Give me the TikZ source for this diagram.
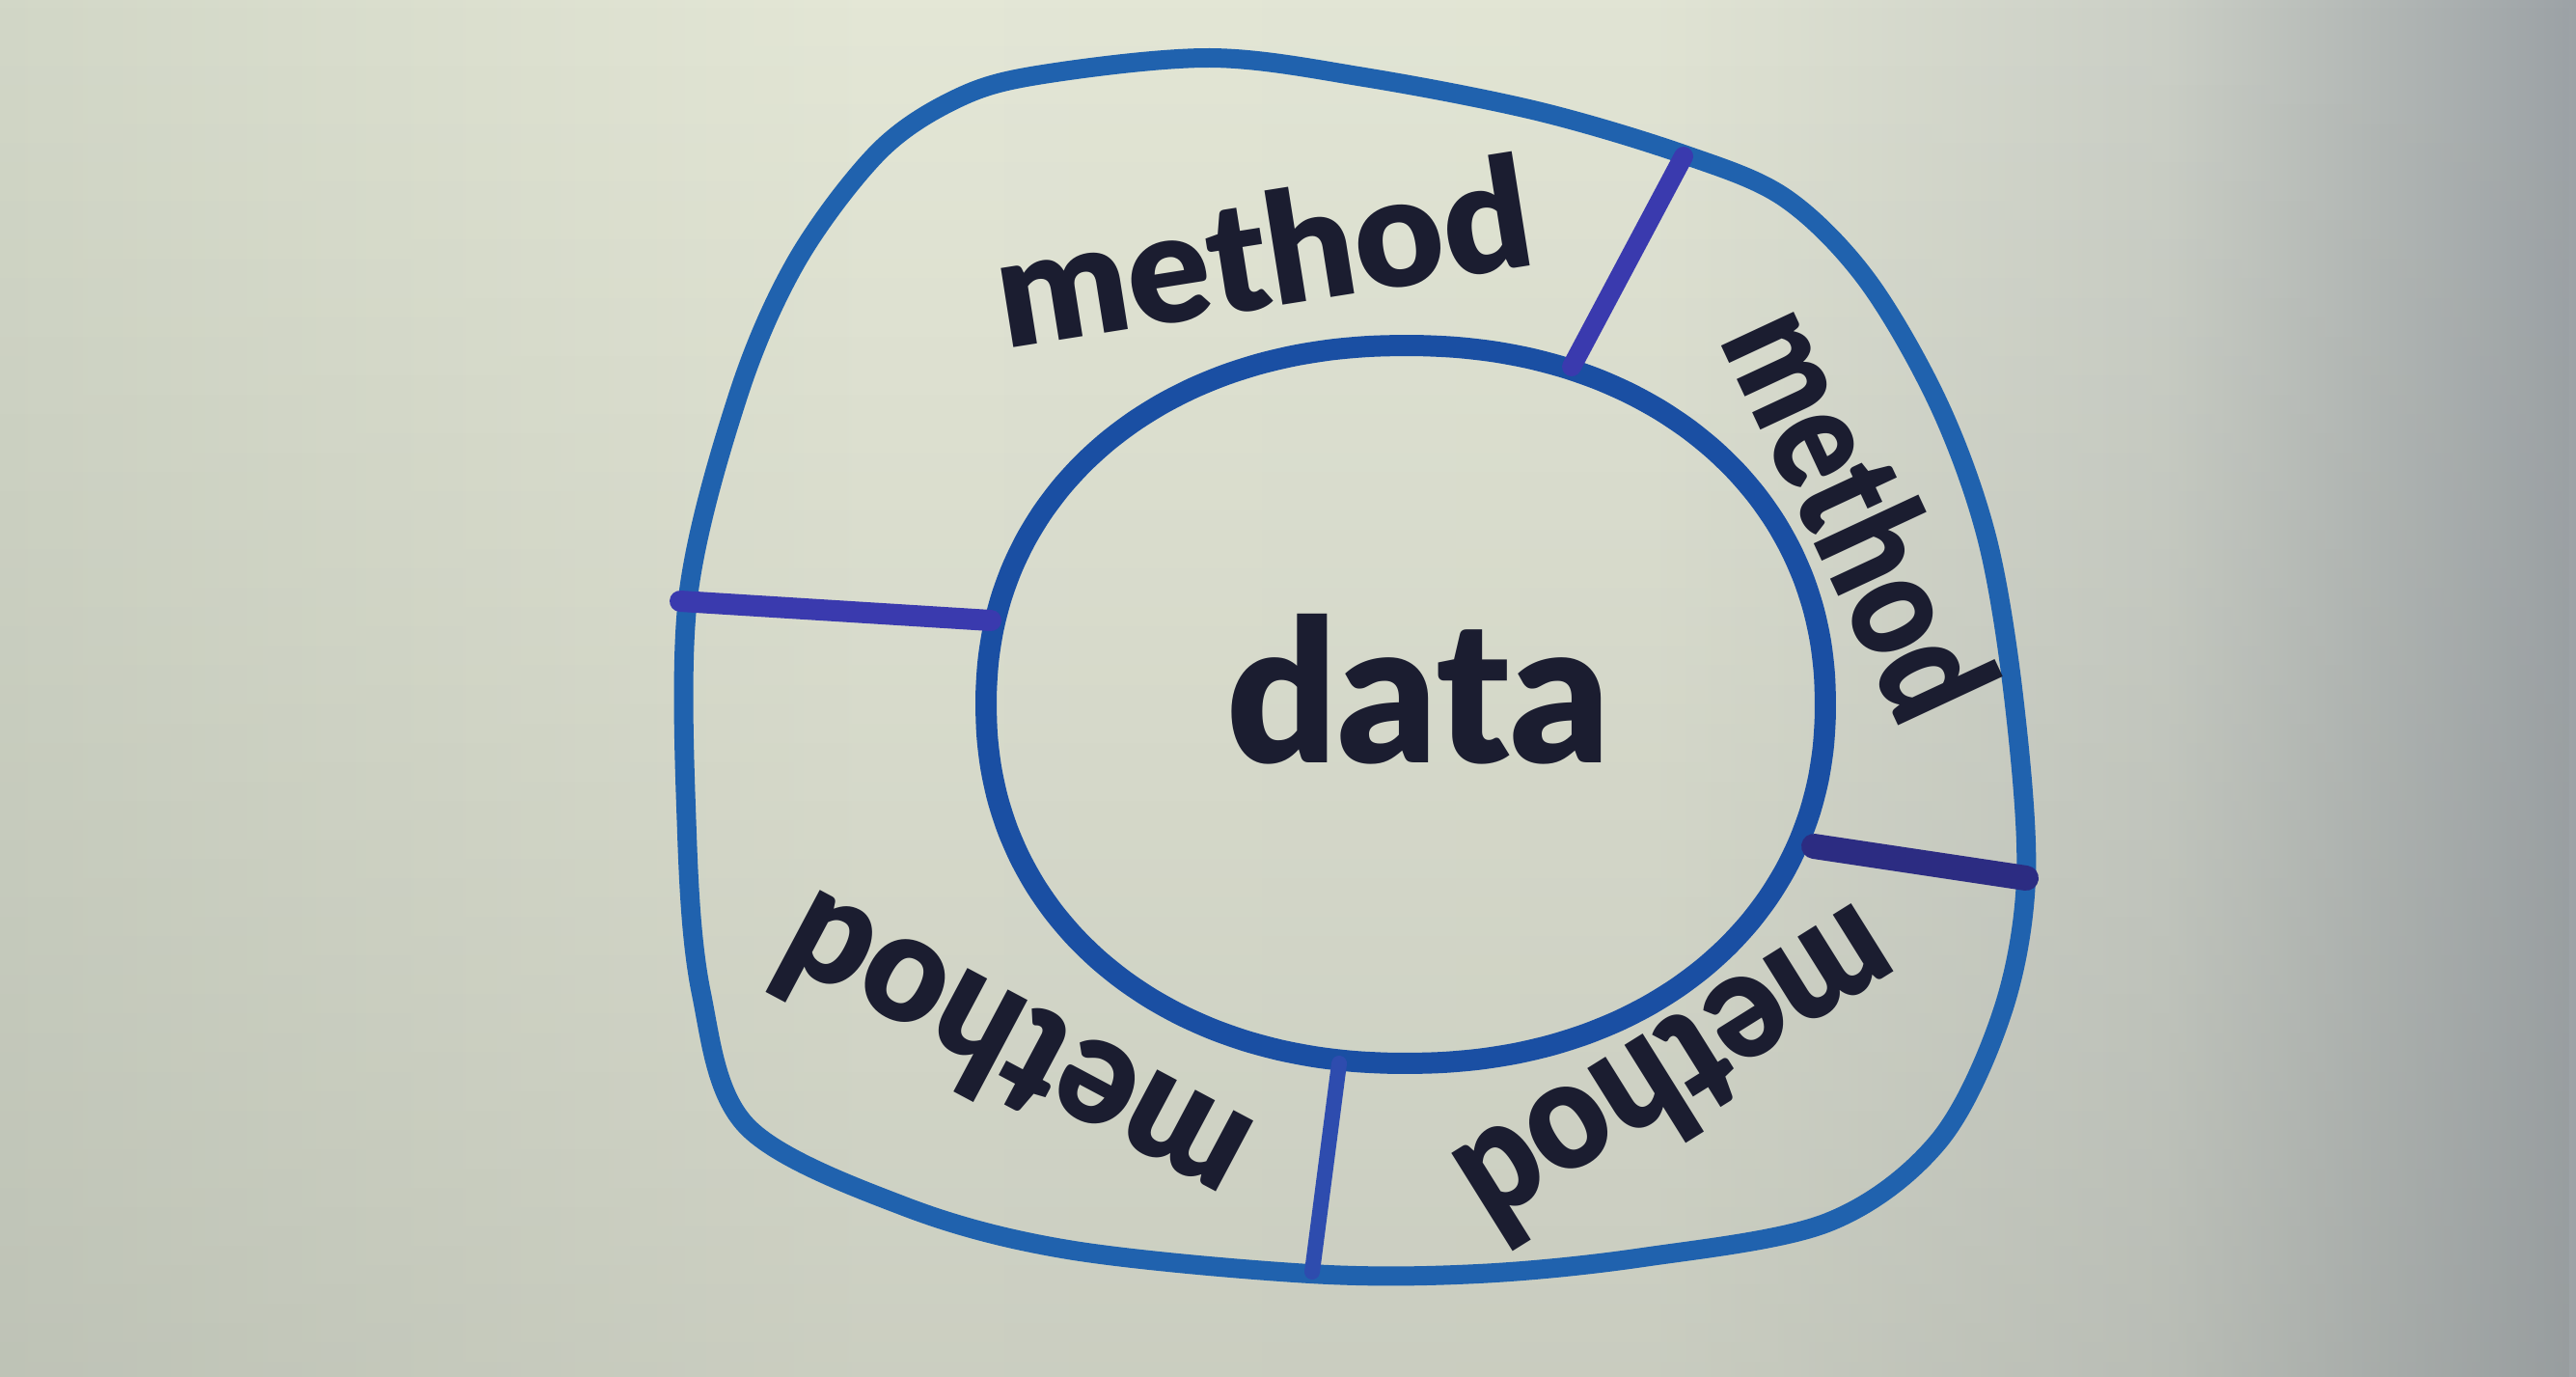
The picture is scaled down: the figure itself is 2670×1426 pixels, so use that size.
\documentclass[tikz,border=0pt]{standalone}
\usepackage{fontspec}
\usepackage{graphicx}
\usetikzlibrary{fadings}
\setmainfont{Lato}
\newfontfamily\hand{Lato Black}
\definecolor{pL}{HTML}{D2D7C7}
\definecolor{pM}{HTML}{E4E7D6}
\definecolor{pM1}{HTML}{E1E4D4}
\definecolor{pM2}{HTML}{CBCFC6}
\definecolor{pR}{HTML}{9CA2A6}
\definecolor{shadowgray}{HTML}{8C908C}
\definecolor{outerblue}{HTML}{2062AE}
\definecolor{innerblue}{HTML}{1A4FA3}
\definecolor{divblue}{HTML}{3A3AAE}
\definecolor{ink}{HTML}{1B1D30}
\pgfdeclarehorizontalshading{paper}{100bp}{color(0bp)=(pL); color(25bp)=(pL); color(42bp)=(pM); color(57bp)=(pM1); color(67bp)=(pM2); color(75bp)=(pR); color(100bp)=(pR)}
\tikzfading[name=botfade, top color=transparent!100, middle color=transparent!100, bottom color=transparent!72]
\begin{document}
\begin{tikzpicture}[x=1pt,y=-1pt,
  ring/.style={draw=outerblue,line width=20pt,line join=round},
  core/.style={draw=innerblue,line width=22pt},
  divider/.style={draw=divblue,line width=22pt,line cap=round},
  label/.style={text=ink,font=\hand\fontsize{160}{162}\selectfont,inner sep=0pt,anchor=base},
  biglabel/.style={text=ink,font=\hand\fontsize{206}{210}\selectfont,inner sep=0pt,anchor=base}
  ]
\useasboundingbox (0,0) rectangle (2670,1426);
\shade[shading=paper] (0,0) rectangle (2670,1426);
\fill[shadowgray, path fading=botfade] (0,0) rectangle (2670,1426);

% outer ring
\draw[ring] plot[smooth cycle, tension=0.55] coordinates {
 (1075,78) (1254,60) (1414,80) (1593,115) (1745,160) (1850,205) (1935,290)
 (2010,420) (2060,560) (2088,730) (2100,910) (2075,1050) (2009,1183)
 (1894,1267) (1703,1303) (1532,1320) (1358,1320) (1107,1295) (937,1250)
 (774,1167) (727,1030) (712,864) (713,620) (765,410) (826,270) (910,158) (990,103)};

% inner core (slightly squared ellipse)
\draw[core] plot[smooth cycle, domain=1:356, samples=72]
  ({1457+435*cos(\x)*pow(abs(cos(\x)),-0.06)}, {730+372*sin(\x)*pow(abs(sin(\x)),-0.06)});

% dividers
\coordinate (dlA) at (705,623);  \coordinate (dlB) at (1027,643);
\coordinate (dtA) at (1745,162); \coordinate (dtB) at (1629,380);
\coordinate (drA) at (1880,877); \coordinate (drB) at (2100,910);
\coordinate (dbA) at (1388,1102); \coordinate (dbB) at (1360,1318);
\draw[divider] (dlA) -- (dlB);
\draw[divider,line width=20pt] (dtA) -- (dtB);
\draw[divider,line width=26pt,draw=divblue!75!black] (drA) -- (drB);
\draw[divider,line width=16pt,draw=divblue!55!outerblue] (dbA) -- (dbB);

% labels
\node[biglabel] (data) at (1470,790) {\scalebox{0.97}[1]{data}};
\node[label,rotate=9] (m1) at (1318,318) {\scalebox{1.0}[1]{method}};
\node[label,rotate=-65] (m2) at (1876,555) {\scalebox{0.80}[1]{method}};
\node[label,rotate=-148] (m3) at (1712,1066) {\scalebox{0.9}[1]{method}};
\node[label,rotate=152] (m4) at (1075,1042) {\scalebox{0.94}[1]{method}};
\end{tikzpicture}
\end{document}
